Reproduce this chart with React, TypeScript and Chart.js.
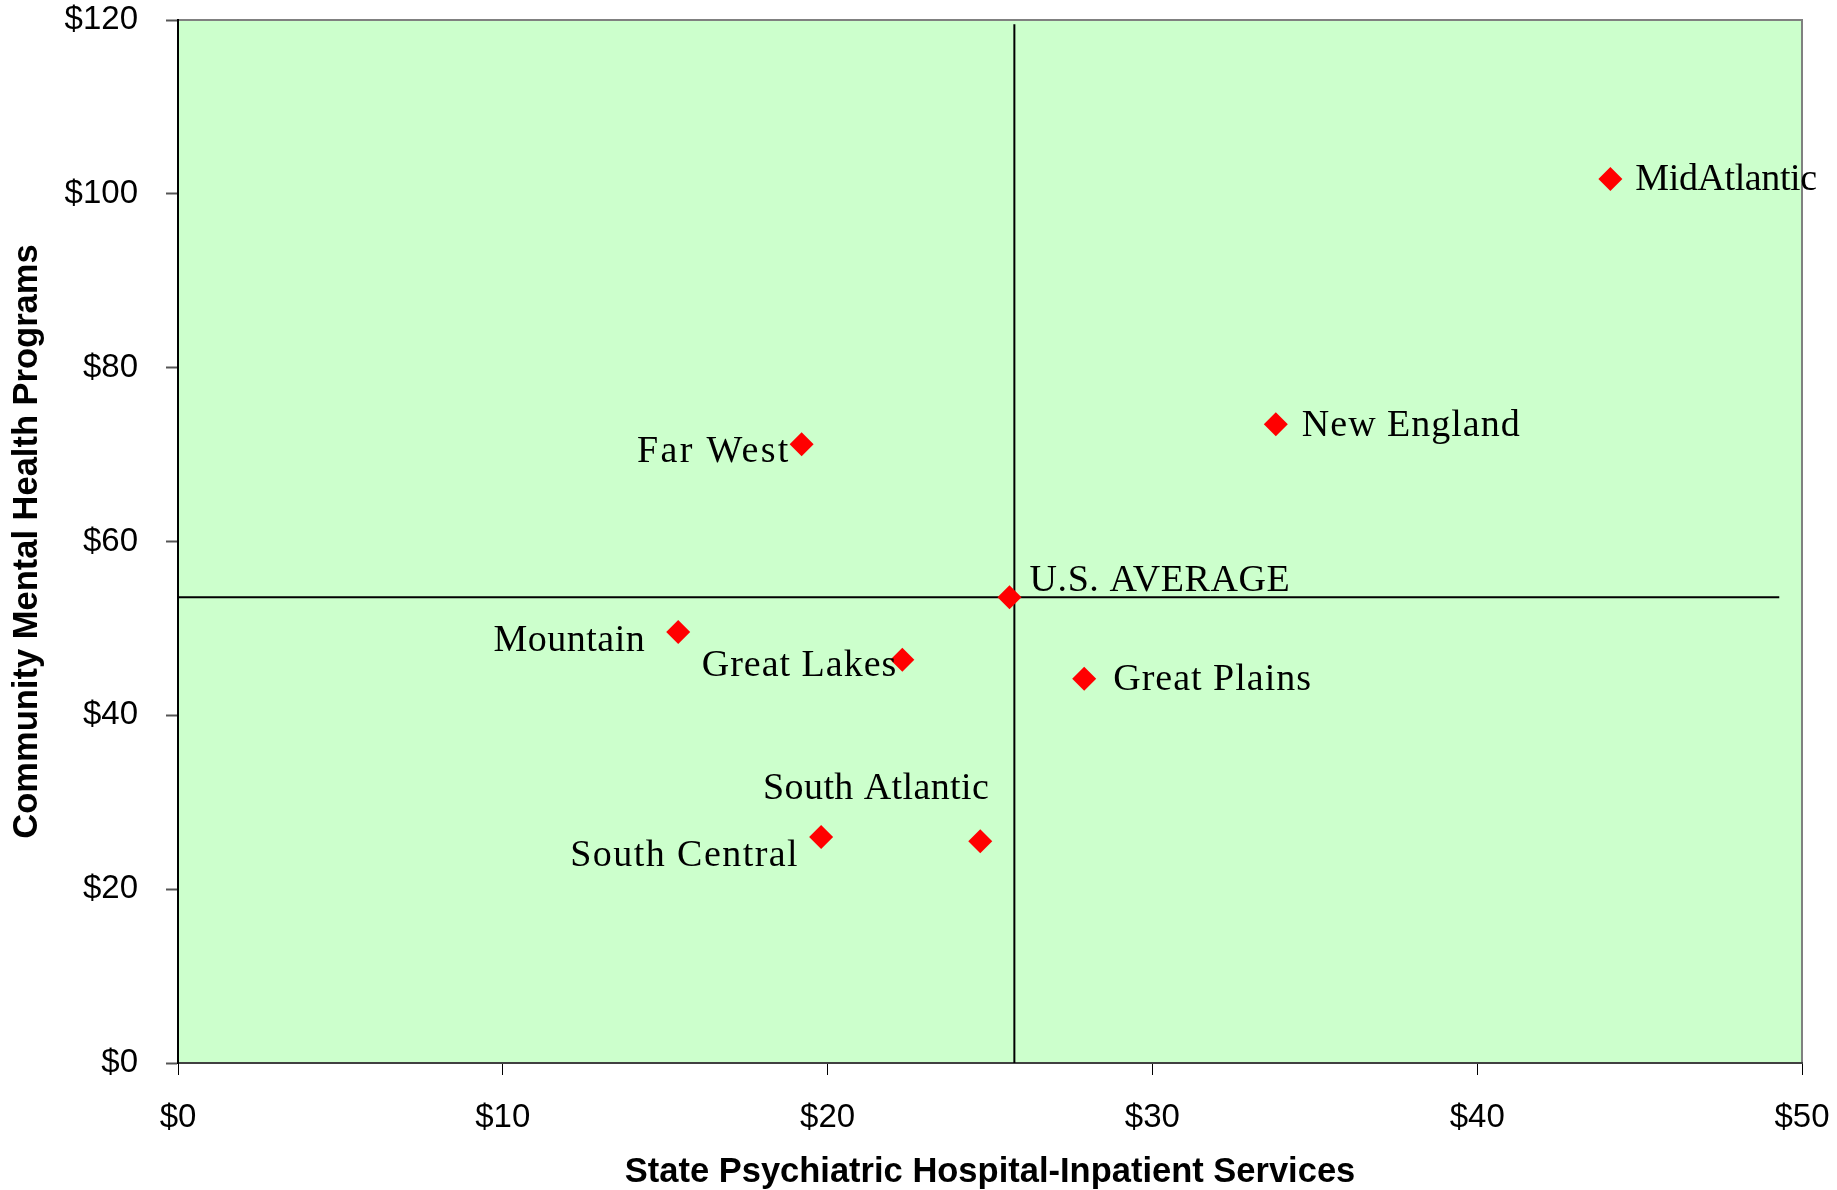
import React, { useEffect, useRef } from "react";
import { Chart, registerables } from "chart.js";

Chart.register(...registerables);

// ---- data ----
const regions = [
  "MidAtlantic",
  "New England",
  "Far West",
  "U.S. AVERAGE",
  "Mountain",
  "Great Lakes",
  "Great Plains",
  "South Atlantic",
  "South Central",
];
const hospitalSpending = [44.1, 33.8, 19.2, 25.6, 15.4, 22.3, 27.9, 24.7, 19.8];
const communitySpending = [101.7, 73.5, 71.2, 53.6, 49.6, 46.4, 44.2, 25.5, 26.0];

const avgVerticalX = [25.75, 25.75];
const avgVerticalY = [0, 119.5];
const avgHorizontalX = [0, 49.3];
const avgHorizontalY = [53.6, 53.6];

const xTicks = [0, 10, 20, 30, 40, 50];
const yTicks = [0, 20, 40, 60, 80, 100, 120];

const xTitle = "State Psychiatric Hospital-Inpatient Services";
const yTitle = "Community Mental Health Programs";

// label placement (pixels relative to the point): align, dx, dy (cap centre), letter spacing
const labelPlacement: Record<string, { align: CanvasTextAlign; dx: number; dy: number; sp: number }> = {
  "MidAtlantic": { align: "left", dx: 25, dy: -2, sp: -0.4 },
  "New England": { align: "left", dx: 26, dy: -1, sp: 1 },
  "Far West": { align: "right", dx: -11, dy: 5, sp: 2.3 },
  "U.S. AVERAGE": { align: "left", dx: 20, dy: -19, sp: 0.6 },
  "Mountain": { align: "right", dx: -33, dy: 7, sp: 0.5 },
  "Great Lakes": { align: "right", dx: -5, dy: 4, sp: 1 },
  "Great Plains": { align: "left", dx: 29, dy: -1, sp: 1 },
  "South Atlantic": { align: "right", dx: 9, dy: -55, sp: 0.4 },
  "South Central": { align: "right", dx: -22, dy: 16, sp: 1.45 },
};

const LABEL_FONT_SIZE = 38;

const plotBgPlugin = {
  id: "plotBg",
  beforeDraw(chart: any) {
    const { ctx, chartArea } = chart;
    ctx.save();
    ctx.fillStyle = "#CCFFCC";
    ctx.fillRect(chartArea.left, chartArea.top, chartArea.right - chartArea.left, chartArea.bottom - chartArea.top);
    ctx.strokeStyle = "#808080";
    ctx.lineWidth = 2;
    ctx.beginPath();
    ctx.moveTo(chartArea.left, chartArea.top);
    ctx.lineTo(chartArea.right, chartArea.top);
    ctx.lineTo(chartArea.right, chartArea.bottom);
    ctx.stroke();
    ctx.restore();
  },
};

const pointLabelPlugin = {
  id: "pointLabels",
  afterDatasetsDraw(chart: any) {
    const { ctx } = chart;
    const meta = chart.getDatasetMeta(0);
    ctx.save();
    ctx.font = `${LABEL_FONT_SIZE}px "Liberation Serif", "Times New Roman", serif`;
    ctx.fillStyle = "#000000";
    ctx.textBaseline = "alphabetic";
    meta.data.forEach((el: any, i: number) => {
      const name = regions[i];
      const p = labelPlacement[name];
      try {
        (ctx as any).letterSpacing = `${p.sp}px`;
      } catch (e) {}
      ctx.textAlign = p.align;
      ctx.fillText(name, el.x + p.dx, el.y + p.dy + LABEL_FONT_SIZE * 0.33);
    });
    ctx.restore();
  },
};

const zeroPadding = (s: any) => {
  s.paddingTop = 0;
  s.paddingBottom = 0;
  s.paddingLeft = 0;
  s.paddingRight = 0;
};

export default function App() {
  const canvasRef = useRef<HTMLCanvasElement | null>(null);

  useEffect(() => {
    if (!canvasRef.current) return;
    const chart = new Chart(canvasRef.current, {
      type: "scatter",
      data: {
        datasets: [
          {
            label: "Regions",
            data: hospitalSpending.map((x, i) => ({ x, y: communitySpending[i] })),
            pointStyle: "rectRot",
            pointRadius: 12,
            pointHoverRadius: 12,
            backgroundColor: "#FF0000",
            borderColor: "#FF0000",
            borderWidth: 0,
            showLine: false,
          },
          {
            label: "avgV",
            data: avgVerticalX.map((x, i) => ({ x, y: avgVerticalY[i] })),
            showLine: true,
            borderColor: "#000000",
            borderWidth: 2,
            pointRadius: 0,
            fill: false,
          },
          {
            label: "avgH",
            data: avgHorizontalX.map((x, i) => ({ x, y: avgHorizontalY[i] })),
            showLine: true,
            borderColor: "#000000",
            borderWidth: 2,
            pointRadius: 0,
            fill: false,
          },
        ],
      },
      options: {
        responsive: false,
        animation: false,
        events: [],
        layout: { padding: { left: 0, top: 20, right: 35, bottom: 0 } },
        plugins: {
          legend: { display: false },
          tooltip: { enabled: false },
          title: { display: false },
        },
        scales: {
          x: {
            type: "linear",
            min: 0,
            max: 50,
            afterBuildTicks: (s: any) => {
              s.ticks = xTicks.map((v) => ({ value: v }));
            },
            afterFit: (s: any) => {
              s.height = 127;
              zeroPadding(s);
            },
            ticks: {
              callback: (v: any) => "$" + v,
              color: "#000000",
              font: { family: '"Liberation Sans", Arial, sans-serif', size: 33 },
              padding: 23,
              maxRotation: 0,
            },
            grid: {
              drawOnChartArea: false,
              drawTicks: true,
              tickLength: 12,
              tickColor: "#000000",
              tickWidth: 1,
            },
            border: { display: true, color: "#404040", width: 2 },
            title: {
              display: true,
              text: xTitle,
              color: "#000000",
              font: { family: '"Liberation Sans", Arial, sans-serif', size: 34.5, weight: "bold", lineHeight: 1.0 },
              padding: { top: 0, bottom: 0 },
            },
          },
          y: {
            type: "linear",
            min: 0,
            max: 120,
            afterBuildTicks: (s: any) => {
              s.ticks = yTicks.map((v) => ({ value: v }));
            },
            afterFit: (s: any) => {
              s.width = 178;
              zeroPadding(s);
            },
            ticks: {
              callback: (v: any) => "$" + v,
              color: "#000000",
              font: { family: '"Liberation Sans", Arial, sans-serif', size: 33 },
              padding: 28,
            },
            grid: {
              drawOnChartArea: false,
              drawTicks: true,
              tickLength: 12,
              tickColor: "#555555",
              tickWidth: 2,
            },
            border: { display: true, color: "#000000", width: 2 },
            title: {
              display: true,
              text: yTitle,
              color: "#000000",
              font: { family: '"Liberation Sans", Arial, sans-serif', size: 34.5, weight: "bold", lineHeight: 1.0 },
              padding: { top: 10, bottom: 0 },
            },
          },
        },
      },
      plugins: [plotBgPlugin, pointLabelPlugin],
    } as any);
    return () => chart.destroy();
  }, []);

  return (
    <div style={{ position: "fixed", left: 0, top: 0, width: 1837, height: 1190, background: "#FFFFFF" }}>
      <canvas ref={canvasRef} width={1837} height={1190} style={{ display: "block", width: 1837, height: 1190 }} />
    </div>
  );
}
